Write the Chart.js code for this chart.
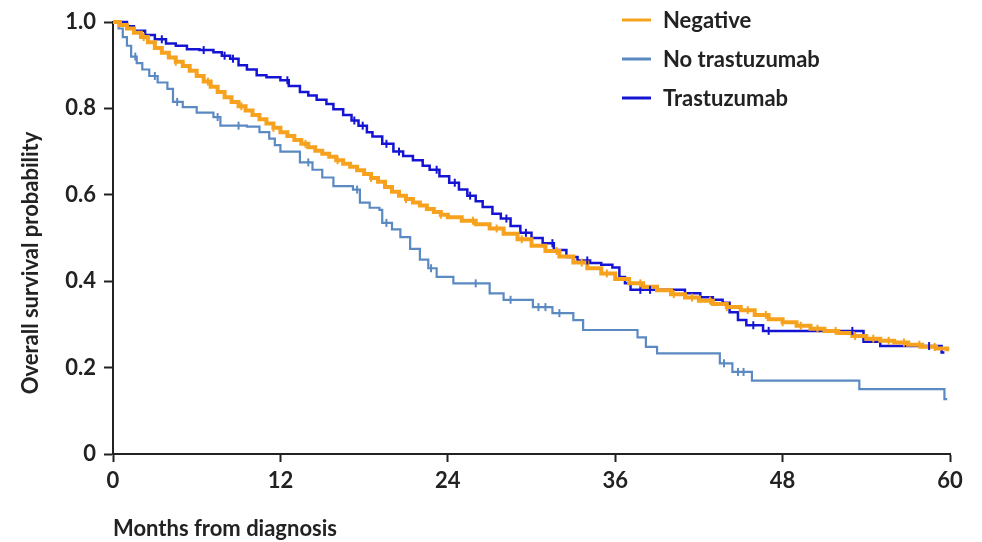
<!DOCTYPE html>
<html>
<head>
<meta charset="utf-8">
<script src="https://cdn.jsdelivr.net/npm/chart.js@4"></script>
<style>
  html, body { margin: 0; padding: 0; background: #fff; }
  #wrap { width: 982px; height: 542px; position: relative; }
</style>
</head>
<body>
<div id="wrap"><canvas id="c" width="982" height="542"></canvas></div>
<script>
// ---- Data ----
const seriesNames = ["Negative", "No trastuzumab", "Trastuzumab"];
const xTicks = [0, 12, 24, 36, 48, 60];
const yTicks = [0, 0.2, 0.4, 0.6, 0.8, 1.0];

// Negative (HER2-negative)
const negMonths = [0,0.5,1,1.5,2,2.5,3,3.5,4,4.5,5,5.5,6,6.5,7,7.5,8,8.5,9,9.5,10,10.5,11,11.5,12,12.5,13,13.5,14,14.5,15,15.5,16,16.5,17,17.5,18,18.5,19,19.5,20,20.5,21,21.5,22,22.5,23,23.5,24,25,26,27,28,29,30,31,32,33,34,35,36,37,38,39,40,41,42,43,44,45,46,47,48,49,50,51,52,53,54,55,56,57,58,59,59.8];
const negSurv   = [1,0.993,0.985,0.975,0.965,0.953,0.94,0.929,0.918,0.908,0.898,0.887,0.875,0.862,0.85,0.838,0.826,0.815,0.805,0.795,0.785,0.775,0.765,0.755,0.745,0.736,0.727,0.718,0.71,0.702,0.695,0.688,0.68,0.672,0.665,0.657,0.648,0.639,0.63,0.618,0.607,0.598,0.59,0.582,0.575,0.567,0.56,0.554,0.548,0.54,0.532,0.522,0.51,0.497,0.482,0.47,0.457,0.443,0.43,0.418,0.405,0.395,0.387,0.379,0.37,0.362,0.355,0.347,0.34,0.333,0.322,0.312,0.305,0.297,0.29,0.285,0.28,0.273,0.267,0.262,0.258,0.253,0.248,0.244,0.238];
const negCensor = [2.2,4.5,6.8,9.2,11.5,13.8,16.1,18.5,21.0,23.5,25.8,27.5,29.3,31.8,33.6,35.4,37.8,40.2,41.5,42.8,44.0,45.5,46.8,48.0,49.3,50.5,51.8,53.2,54.5,55.6,56.7,57.8,58.9];

// No trastuzumab
const noTrMonths = [0,0.4,0.7,1.0,1.3,1.7,2.1,2.6,3.2,3.9,4.3,5.0,6.0,7.2,7.7,9.6,10.5,11.2,11.6,12.0,13.4,14.3,15.0,15.8,17.2,17.7,18.4,19.1,19.3,20.0,20.6,21.3,22.0,22.6,23.2,24.4,27.0,28.0,30.1,31.5,33.0,33.7,37.6,38.2,39.0,43.5,44.4,45.8,53.5,59.6];
const noTrSurv   = [1,0.985,0.965,0.945,0.92,0.905,0.89,0.875,0.86,0.845,0.815,0.803,0.79,0.78,0.76,0.758,0.745,0.73,0.715,0.7,0.675,0.658,0.64,0.62,0.612,0.582,0.57,0.565,0.535,0.52,0.502,0.475,0.45,0.43,0.41,0.395,0.372,0.357,0.34,0.326,0.31,0.287,0.27,0.248,0.233,0.21,0.19,0.17,0.15,0.127];
const noTrEnd = 59.8;
const noTrCensor = [1.6,3.0,4.6,7.5,9.0,14.0,17.5,19.6,22.8,26.0,28.5,30.5,31.0,32.0,43.8,44.8,45.2];

// Trastuzumab
const trMonths = [0,1.0,1.5,2.3,3.0,3.8,4.5,5.3,6.2,7.2,7.8,8.4,9.0,9.6,10.3,11.0,12.0,12.6,13.4,14.0,14.6,15.3,15.8,16.5,17.1,17.6,18.2,18.6,19.3,20.1,20.8,21.5,22.2,22.7,23.4,24.1,24.8,25.4,26.0,26.5,27.2,27.8,28.5,29.2,30.0,30.8,31.6,32.5,33.3,34.2,35.0,35.8,36.3,36.7,37.1,41.0,42.1,43.0,43.7,44.2,44.8,45.4,46.6,53.8,55.0,59.4];
const trSurv   = [1,0.99,0.98,0.97,0.96,0.95,0.945,0.937,0.935,0.93,0.922,0.915,0.9,0.89,0.877,0.872,0.865,0.852,0.838,0.83,0.82,0.81,0.798,0.785,0.772,0.76,0.745,0.735,0.718,0.7,0.69,0.68,0.667,0.658,0.643,0.628,0.612,0.598,0.585,0.572,0.556,0.545,0.528,0.512,0.5,0.488,0.472,0.456,0.448,0.442,0.438,0.432,0.41,0.395,0.38,0.372,0.363,0.357,0.35,0.328,0.31,0.298,0.285,0.26,0.25,0.235];
const trEnd = 59.6;
const trCensor = [3.5,6.5,8.0,8.6,12.5,17.3,17.9,19.6,20.5,23.2,24.5,25.6,28.2,29.6,31.5,34.0,37.8,38.5,45.9,47.0,53.0,58.5];

const colors = ["#F7A21E", "#5B89C2", "#1414D2"];
const widths = [4, 2.2, 2.5];

// ---- helpers ----
function toPoints(t, s, endT) {
  const pts = t.map((m, i) => ({ x: m, y: s[i] }));
  if (endT !== undefined) pts.push({ x: endT, y: s[s.length - 1] });
  return pts;
}
function survAt(t, s, time) {
  let v = s[0];
  for (let i = 0; i < t.length; i++) if (t[i] <= time) v = s[i];
  return v;
}
function censorPoints(t, s, c) { return c.map(m => ({ x: m, y: survAt(t, s, m) })); }

const FONT = "Lato, 'Open Sans', sans-serif";

const lineSets = [
  { label: seriesNames[0], data: toPoints(negMonths, negSurv), borderColor: colors[0], borderWidth: widths[0] },
  { label: seriesNames[1], data: toPoints(noTrMonths, noTrSurv, noTrEnd), borderColor: colors[1], borderWidth: widths[1] },
  { label: seriesNames[2], data: toPoints(trMonths, trSurv, trEnd), borderColor: colors[2], borderWidth: widths[2] }
].map(d => Object.assign(d, { stepped: 'before', pointRadius: 0, fill: false, clip: 8, order: 1 }));

const censorSets = [
  [negMonths, negSurv, negCensor, 0, 4],
  [noTrMonths, noTrSurv, noTrCensor, 1, 4],
  [trMonths, trSurv, trCensor, 2, 4]
].map(([t, s, c, k, r]) => ({
  type: 'scatter', label: seriesNames[k] + ' censored', isCensor: true,
  data: censorPoints(t, s, c), pointStyle: 'line', rotation: 90, pointRadius: r,
  borderColor: colors[k], backgroundColor: colors[k], pointBorderWidth: 2, showLine: false, clip: 8, order: 0
}));

const legendPlugin = {
  id: 'kmLegend',
  afterDraw(chart) {
    const ctx = chart.ctx;
    const rows = [20, 59, 98];
    ctx.save();
    chart.data.datasets.filter(d => !d.isCensor).forEach((d, i) => {
      ctx.strokeStyle = d.borderColor; ctx.lineWidth = 3;
      ctx.beginPath(); ctx.moveTo(622, rows[i]); ctx.lineTo(651, rows[i]); ctx.stroke();
      ctx.fillStyle = '#222'; ctx.font = 'bold 22px ' + FONT;
      ctx.textBaseline = 'middle'; ctx.textAlign = 'left';
      ctx.fillText(d.label, 663, rows[i] + 1);
    });
    // y-axis title
    ctx.translate(31, 263); ctx.rotate(-Math.PI / 2);
    ctx.font = 'bold 22px ' + FONT; ctx.textAlign = 'center'; ctx.textBaseline = 'middle';
    ctx.fillText('Overall survival probability', 0, 0);
    ctx.restore();
  }
};

new Chart(document.getElementById('c'), {
  type: 'line',
  data: { datasets: [...lineSets, ...censorSets] },
  options: {
    responsive: false, animation: false,
    layout: { padding: { top: 22, right: 32, left: 0, bottom: 0 } },
    plugins: { legend: { display: false }, tooltip: { enabled: false } },
    scales: {
      x: {
        type: 'linear', min: 0, max: 60,
        afterBuildTicks: s => { s.ticks = xTicks.map(v => ({ value: v })); },
        afterFit: s => { s.height = 88; },
        ticks: { color: '#222', font: { family: FONT, size: 22, weight: 'bold' }, padding: 6, maxRotation: 0 },
        grid: { drawOnChartArea: false, drawTicks: true, tickLength: 8, tickWidth: 2, tickColor: '#222' },
        border: { display: true, color: '#222', width: 2 },
        title: { display: true, text: 'Months from diagnosis', align: 'start', color: '#222',
                 font: { family: FONT, size: 22, weight: 'bold' }, padding: { top: 12, bottom: 0 } }
      },
      y: {
        type: 'linear', min: 0, max: 1,
        afterBuildTicks: s => { s.ticks = yTicks.map(v => ({ value: v })); },
        afterFit: s => { s.width = 113; },
        ticks: { color: '#222', font: { family: FONT, size: 22, weight: 'bold' }, padding: 8,
                 callback: v => v === 0 ? '0' : v.toFixed(1) },
        grid: { drawOnChartArea: false, drawTicks: true, tickLength: 9, tickWidth: 2, tickColor: '#222' },
        border: { display: true, color: '#222', width: 2 }
      }
    }
  },
  plugins: [legendPlugin]
});
</script>
</body>
</html>
